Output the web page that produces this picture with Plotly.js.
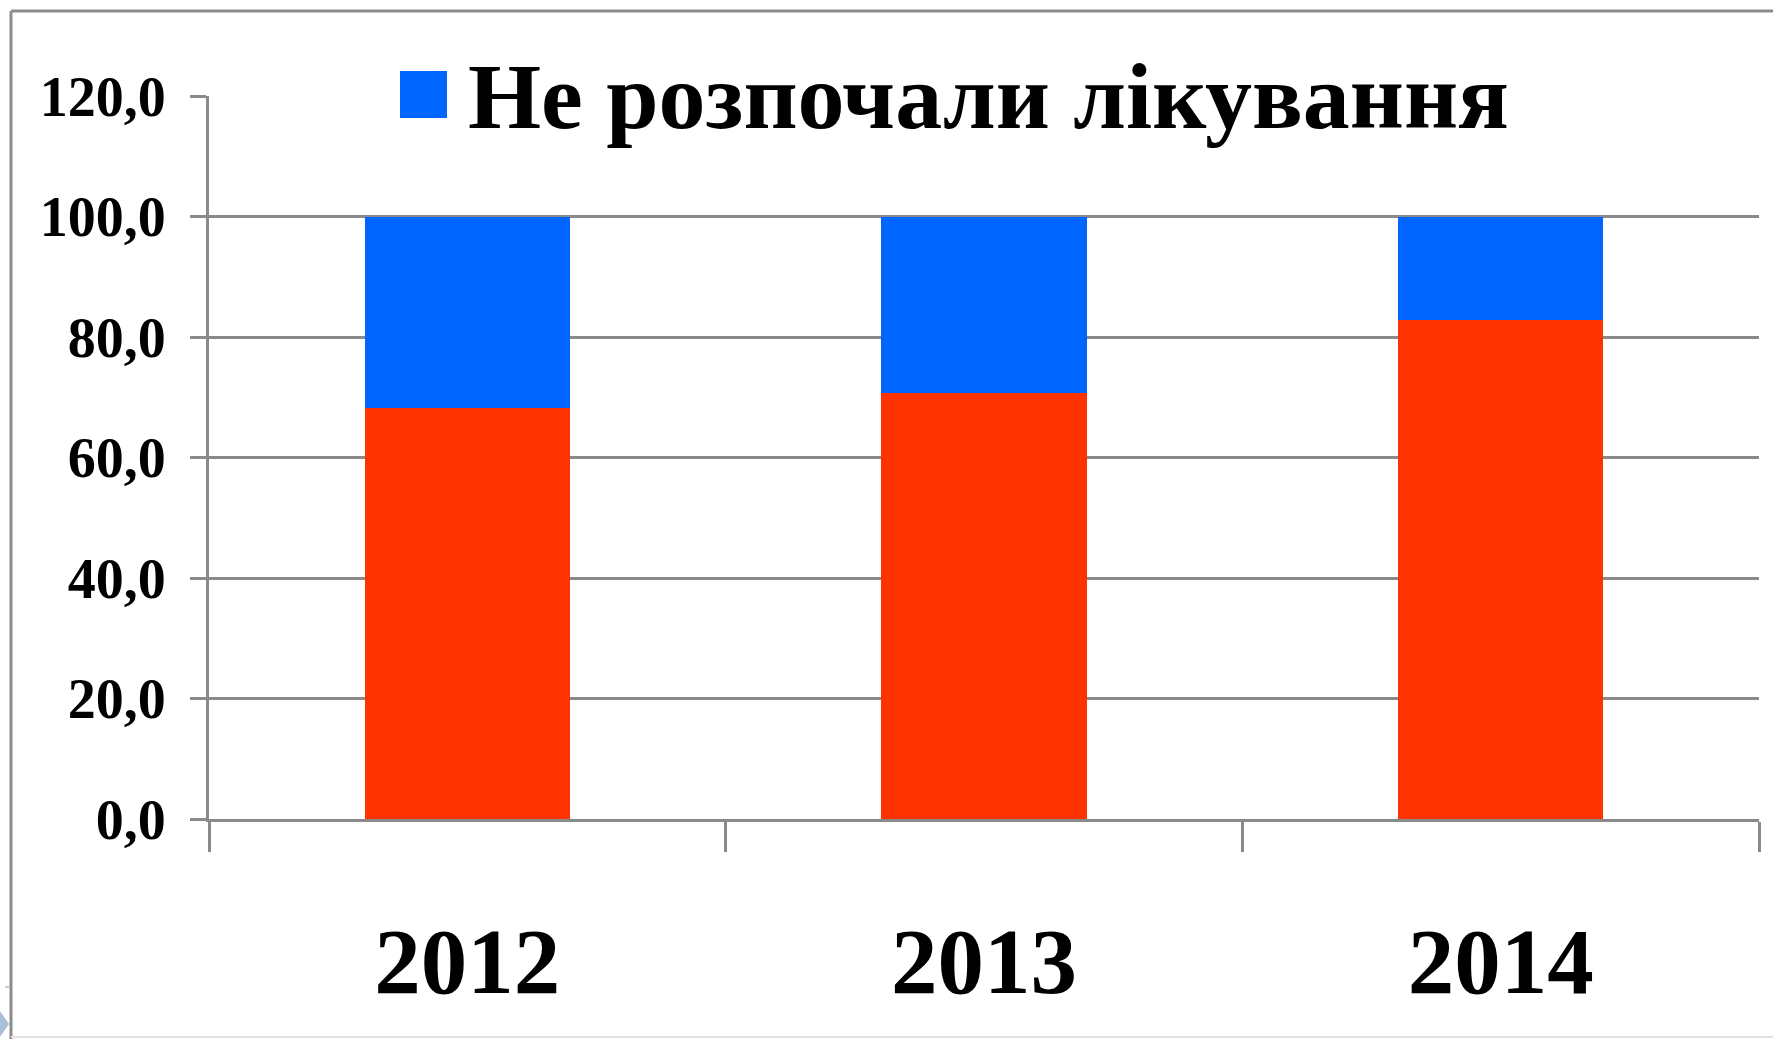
<!DOCTYPE html>
<html>
<head>
<meta charset="utf-8">
<script src="https://cdn.plot.ly/plotly-3.0.1.min.js"></script>
<style>
  html, body { margin: 0; padding: 0; background: #ffffff; }
  #chart { width: 1773px; height: 1039px; }
</style>
</head>
<body>
<div id="chart"></div>
<script>
// ---- data ----
var years = ['2012', '2013', '2014'];
var startedName = 'Розпочали лікування';
var startedValues = [68.2, 70.7, 82.9];
var notStartedName = 'Не розпочали лікування';
var notStartedValues = [31.8, 29.3, 17.1];
var yTickValues = [0, 20, 40, 60, 80, 100, 120];
var yTickLabels = ['0,0', '20,0', '40,0', '60,0', '80,0', '100,0', '120,0'];

// ---- styling ----
var fontFamily = '"Liberation Serif", "Times New Roman", Times, serif';
var gridColor = '#8a8a8a';
var red = '#FF3300';
var blue = '#0066FF';

// geometry helpers (pixel -> paper)
var W = 1773, H = 1039;
var mL = 209, mR = 14, mT = 96, mB = 220;
var pw = W - mL - mR, ph = H - mT - mB;
function px(x) { return (x - mL) / pw; }
function py(y) { return (H - mB - y) / ph; }

var traces = [
  {
    type: 'bar',
    name: startedName,
    x: years,
    y: startedValues,
    marker: { color: red, line: { width: 0 } },
    showlegend: false,
    hoverinfo: 'x+y+name'
  },
  {
    type: 'bar',
    name: notStartedName,
    x: years,
    y: notStartedValues,
    marker: { color: blue, line: { width: 0 } },
    showlegend: false,
    hoverinfo: 'x+y+name'
  }
];

var layout = {
  width: W,
  height: H,
  margin: { l: mL, r: mR, t: mT, b: mB, pad: 0 },
  paper_bgcolor: '#ffffff',
  plot_bgcolor: '#ffffff',
  barmode: 'stack',
  bargap: 0.603,
  showlegend: false,
  font: { family: fontFamily, color: '#000000' },
  xaxis: {
    type: 'category',
    categoryorder: 'array',
    categoryarray: years,
    showgrid: false,
    zeroline: false,
    showline: true,
    linecolor: gridColor,
    linewidth: 3,
    ticks: 'outside',
    tickson: 'boundaries',
    ticklen: 30,
    tickwidth: 3,
    tickcolor: gridColor,
    ticklabelstandoff: 59,
    tickfont: { family: fontFamily, size: 93, weight: 'bold', color: '#000000' },
    fixedrange: true
  },
  yaxis: {
    range: [0, 120],
    tickmode: 'array',
    tickvals: yTickValues,
    ticktext: yTickLabels,
    showgrid: true,
    gridcolor: gridColor,
    gridwidth: 3,
    zeroline: false,
    showline: true,
    linecolor: gridColor,
    linewidth: 3,
    ticks: 'outside',
    ticklen: 16,
    tickwidth: 3,
    tickcolor: gridColor,
    ticklabelstandoff: 13,
    tickfont: { family: fontFamily, size: 56, weight: 'bold', color: '#000000' },
    fixedrange: true
  },
  shapes: [
    // outer frame: top and left
    { type: 'line', xref: 'paper', yref: 'paper', x0: px(11), x1: px(1773), y0: py(11), y1: py(11),
      line: { color: '#8c8c8c', width: 3 } },
    { type: 'line', xref: 'paper', yref: 'paper', x0: px(11), x1: px(11), y0: py(11), y1: py(1039),
      line: { color: '#8c8c8c', width: 3 } },
    // faint bottom edge
    { type: 'line', xref: 'paper', yref: 'paper', x0: px(11), x1: px(1773), y0: py(1037), y1: py(1037),
      line: { color: '#e2e2e2', width: 2 } },
    // legend swatch
    { type: 'rect', xref: 'paper', yref: 'paper', x0: px(400), x1: px(447), y0: py(118), y1: py(71),
      fillcolor: blue, line: { width: 0 } },
    // small slide artifacts at bottom-left
    { type: 'line', xref: 'paper', yref: 'paper', x0: px(5), x1: px(10), y0: py(987), y1: py(987),
      line: { color: '#a9bfd8', width: 1.5 } },
    { type: 'path', xref: 'paper', yref: 'paper',
      path: 'M ' + px(0) + ' ' + py(1011) + ' L ' + px(9) + ' ' + py(1024) + ' L ' + px(0) + ' ' + py(1037) + ' Z',
      fillcolor: '#a9bfd8', line: { width: 0 } }
  ],
  annotations: [
    {
      xref: 'paper', yref: 'paper',
      x: px(466), y: py(96),
      xanchor: 'left', yanchor: 'middle',
      text: notStartedName,
      showarrow: false,
      font: { family: fontFamily, size: 94, weight: 'bold', color: '#000000' }
    }
  ]
};

Plotly.newPlot('chart', traces, layout, { displayModeBar: false, staticPlot: true });
</script>
</body>
</html>
